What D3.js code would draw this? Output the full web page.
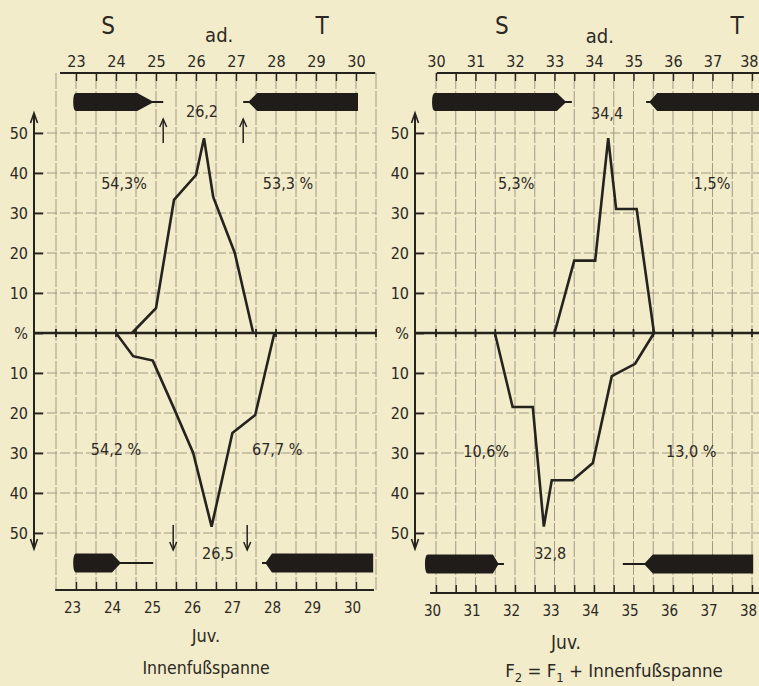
<!DOCTYPE html>
<html>
<head>
<meta charset="utf-8">
<script src="https://cdn.jsdelivr.net/npm/d3@7"></script>
<style>
  html, body { margin: 0; padding: 0; background: #f2ecca; }
  svg { display: block; }
  text {
    font-family: "DejaVu Sans Condensed", "Liberation Sans Narrow", "DejaVu Sans", sans-serif;
    font-stretch: condensed;
    fill: #2c2823;
  }
</style>
</head>
<body>
<svg id="chart"></svg>
<script>
// ===== Daten ===== //
// Kurven : [Wert, Prozent]  (ad. nach oben, Juv. nach unten)
const adLinks   = [[24.4,0],[25.0,6.2],[25.45,33.3],[26.0,39.5],[26.2,48.7],[26.43,34],[26.97,20],[27.43,0]];
const juvLinks  = [[24.0,0],[24.43,5.8],[24.92,6.9],[25.43,18.4],[25.93,30],[26.39,48.4],[26.91,25],[27.48,20.5],[27.96,0]];
const adRechts  = [[33.0,0],[33.5,18.1],[34.03,18.1],[34.36,48.7],[34.56,31],[35.08,31],[35.52,0]];
const juvRechts = [[31.49,0],[31.94,18.5],[32.45,18.5],[32.73,48.4],[32.93,36.8],[33.46,36.8],[33.97,32.5],[34.45,10.8],[35.04,7.7],[35.52,0]];

// Balken S / T (Variationsbreite) : 4 Werte a<b<c<d
const barsLinks  = { adS: [22.93,24.53,24.9,25.18], adT: [27.18,27.33,27.53,30.05],
                     juvS: [22.93,23.9,24.1,24.93], juvT: [27.65,27.75,27.9,30.43] };
const barsRechts = { adS: [29.9,33.06,33.27,33.44], adT: [35.32,35.42,35.6,38.2],
                     juvS: [29.72,31.44,31.57,31.72], juvT: [34.73,35.29,35.49,38.03] };

// Pfeile (Mittelwerte) links
const pfeileAd  = [25.18, 27.18];
const pfeileJuv = [25.43, 27.28];

// Beschriftungen
const ticksLinks  = ["23","24","25","26","27","28","29","30"];
const ticksRechts = ["30","31","32","33","34","35","36","37","38"];
const yWerte      = [-50,-40,-30,-20,-10,0,10,20,30,40,50];
const textLinks   = ["54,3%","53,3 %","54,2 %","67,7 %","26,2","26,5"];
const textRechts  = ["5,3%","1,5%","10,6%","13,0 %","34,4","32,8"];

// ===== Aufbau ===== //
const W = 759, H = 686;
const ink = "#26221e", grau = "#958d7b";

const svg = d3.select("#chart").attr("width", W).attr("height", H);

const y = d3.scaleLinear().domain([-50, 50]).range([533, 133]);

const panels = [
  { x: d3.scaleLinear().domain([23,30]).range([76,356]), start: 23, ende: 30, labels: ticksLinks,
    grid: [22.5,30.5], achseX: 34, top: [22.6,30.48], unten: [22.48,30.45], untenY: 590, rechts: 376,
    ad: adLinks, juv: juvLinks, bars: barsLinks, texte: textLinks,
    txtPos: [[24.2,36],[28.3,36],[24.0,-30.5],[28.03,-30.5],[26.15,54],[26.55,-56.5]],
    kopf: [[23.8,"S",24,34],[26.58,"ad.",20,42],[29.15,"T",24,34]], barBottomY: 563 },
  { x: d3.scaleLinear().domain([30,38]).range([436,752]), start: 30, ende: 38, labels: ticksRechts,
    grid: [30,38], achseX: 415, top: [30.02,38.2], unten: [29.85,38.2], untenY: 593, rechts: 759,
    ad: adRechts, juv: juvRechts, bars: barsRechts, texte: textRechts,
    txtPos: [[32.03,36],[36.99,36],[31.27,-31],[36.46,-31],[34.33,53.5],[32.89,-56.5]],
    kopf: [[31.67,"S",24,34],[34.15,"ad.",20,43],[37.62,"T",24,34]], barBottomY: 564 }
];

function pfeilKopf(g, x0, y0, richtung, w, len, sw) {
  // offene Pfeilspitze, richtung -1 = oben, +1 = unten
  g.append("path")
    .attr("d", `M${x0 - w},${y0 - richtung * len}L${x0},${y0}L${x0 + w},${y0 - richtung * len}`)
    .attr("fill", "none").attr("stroke", ink).attr("stroke-width", sw);
}

function barPfad(x, v, cy, h, seite) {
  const [a, b, c, d] = v.map(x);
  const t = 1.1, o = cy - h / 2, u = cy + h / 2;
  if (seite === "S") {
    return `M${a + 3},${o}L${b},${o}L${c},${cy - t}L${d},${cy - t}L${d},${cy + t}L${c},${cy + t}L${b},${u}L${a + 3},${u}Q${a},${u} ${a},${cy}Q${a},${o} ${a + 3},${o}Z`;
  }
  return `M${a},${cy - t}L${b},${cy - t}L${c},${o}L${d},${o}L${d},${u}L${c},${u}L${b},${cy + t}L${a},${cy + t}Z`;
}

panels.forEach(p => {
  const x = p.x;
  const g = svg.append("g");
  const halbe = d3.range(p.grid[0], p.grid[1] + 0.01, 0.5);

  // vertikale Gitterlinien
  g.append("g").selectAll("line").data(halbe).join("line")
    .attr("x1", d => x(d)).attr("x2", d => x(d))
    .attr("y1", 73).attr("y2", p.untenY)
    .attr("stroke", grau).attr("stroke-width", 0.85)
    .attr("stroke-dasharray", "16,2");

  // horizontale Gitterlinien
  g.append("g").selectAll("line").data(yWerte.filter(d => d !== 0)).join("line")
    .attr("x1", p.achseX).attr("x2", p.rechts)
    .attr("y1", d => y(d)).attr("y2", d => y(d))
    .attr("stroke", grau).attr("stroke-width", 0.85)
    .attr("stroke-dasharray", "10,3");

  // obere Achse
  const halbeAchse = d3.range(p.start, p.ende + 0.01, 0.5);
  const xTop = x.copy().domain(p.top).range(p.top.map(x));
  const topAxis = g.append("g").attr("transform", "translate(0,73)")
    .call(d3.axisTop(x).tickValues(halbeAchse).tickSizeInner(-8).tickSizeOuter(0).tickPadding(6)
      .tickFormat(d => Number.isInteger(d) ? p.labels[d - p.start] : ""));
  topAxis.select(".domain").remove();
  topAxis.selectAll("line").attr("stroke", ink).attr("stroke-width", 1.4);
  topAxis.selectAll("text").attr("font-size", 16).attr("font-family", null).attr("fill", ink)
    .filter(d => x(d) > W - 12).attr("text-anchor", "end").attr("x", W - 1 - x(p.ende));

  g.append("line").attr("x1", xTop(p.top[0])).attr("x2", xTop(p.top[1]))
    .attr("y1", 73).attr("y2", 73).attr("stroke", ink).attr("stroke-width", 2);

  // untere Achse
  const botAxis = g.append("g").attr("transform", `translate(0,${p.untenY})`)
    .call(d3.axisBottom(x).tickValues(halbeAchse).tickSizeInner(-8).tickSizeOuter(0)
      .tickFormat(d => Number.isInteger(d) ? p.labels[d - p.start] : ""));
  botAxis.select(".domain").remove();
  botAxis.selectAll("line").attr("stroke", ink).attr("stroke-width", 1.4);
  botAxis.selectAll("text").attr("font-size", 15).attr("font-family", null).attr("fill", ink)
    .attr("y", 23).attr("dy", 0).attr("x", -4);
  g.append("line").attr("x1", x(p.unten[0])).attr("x2", x(p.unten[1]))
    .attr("y1", p.untenY).attr("y2", p.untenY).attr("stroke", ink).attr("stroke-width", 2);

  // Nulllinie
  g.append("line").attr("x1", p.achseX).attr("x2", Math.min(p.rechts, W))
    .attr("y1", y(0)).attr("y2", y(0)).attr("stroke", ink).attr("stroke-width", 2.4);
  g.append("g").selectAll("line").data(halbe).join("line")
    .attr("x1", d => x(d)).attr("x2", d => x(d))
    .attr("y1", y(0) - 4).attr("y2", y(0) + 4)
    .attr("stroke", ink).attr("stroke-width", 1.8);

  // y-Achse
  const yAxis = g.append("g").attr("transform", `translate(${p.achseX},0)`)
    .call(d3.axisLeft(y).tickValues(yWerte).tickSizeInner(-9).tickSizeOuter(0).tickPadding(6)
      .tickFormat(d => d === 0 ? "%" : Math.abs(d)));
  yAxis.select(".domain").remove();
  yAxis.selectAll("line").attr("stroke", ink).attr("stroke-width", 1.8);
  yAxis.selectAll("text").attr("font-size", 16).attr("font-family", null).attr("fill", ink);
  g.append("line").attr("x1", p.achseX).attr("x2", p.achseX)
    .attr("y1", y(50) - 19).attr("y2", y(-50) + 15)
    .attr("stroke", ink).attr("stroke-width", 2);
  pfeilKopf(g, p.achseX, y(50) - 20, -1, 3.5, 10, 1.6);
  pfeilKopf(g, p.achseX, y(-50) + 16, 1, 3.5, 10, 1.6);

  // Balken
  g.append("path").attr("d", barPfad(x, p.bars.adS, 102, 18, "S")).attr("fill", "#1f1c19");
  g.append("path").attr("d", barPfad(x, p.bars.adT, 102, 18, "T")).attr("fill", "#1f1c19");
  g.append("path").attr("d", barPfad(x, p.bars.juvS, p.barBottomY, 19, "S")).attr("fill", "#1f1c19");
  g.append("path").attr("d", barPfad(x, p.bars.juvT, p.barBottomY, 19, "T")).attr("fill", "#1f1c19");

  // Kurven
  const linie = d3.line().x(d => x(d[0]));
  g.append("path").datum(p.ad)
    .attr("d", linie.y(d => y(d[1])))
    .attr("fill", "none").attr("stroke", ink).attr("stroke-width", 2.6).attr("stroke-linejoin", "miter");
  g.append("path").datum(p.juv)
    .attr("d", linie.y(d => y(-d[1])))
    .attr("fill", "none").attr("stroke", ink).attr("stroke-width", 2.6).attr("stroke-linejoin", "miter");

  // Prozent- und Gipfelwerte
  g.append("g").selectAll("text").data(p.texte).join("text")
    .attr("x", (d, i) => x(p.txtPos[i][0]))
    .attr("y", (d, i) => y(p.txtPos[i][1]))
    .attr("text-anchor", "middle").attr("font-size", 16)
    .text(d => d);

  // Kopfzeile S / ad. / T
  g.append("g").selectAll("text").data(p.kopf).join("text")
    .attr("x", d => x(d[0])).attr("y", d => d[3])
    .attr("text-anchor", "middle").attr("font-size", d => d[2])
    .text(d => d[1]);
});

// Pfeile links (Mittelwerte)
const xl = panels[0].x;
pfeileAd.forEach(v => {
  svg.append("line").attr("x1", xl(v)).attr("x2", xl(v)).attr("y1", 143).attr("y2", 119)
    .attr("stroke", ink).attr("stroke-width", 1.5);
  pfeilKopf(svg, xl(v), 119, -1, 3.5, 8, 1.5);
});
pfeileJuv.forEach(v => {
  svg.append("line").attr("x1", xl(v)).attr("x2", xl(v)).attr("y1", 525).attr("y2", 550)
    .attr("stroke", ink).attr("stroke-width", 1.5);
  pfeilKopf(svg, xl(v), 550, 1, 3.5, 8, 1.5);
});

// Untertitel
svg.append("text").attr("x", 206).attr("y", 642).attr("text-anchor", "middle").attr("font-size", 18).text("Juv.");
svg.append("text").attr("x", 206).attr("y", 674).attr("text-anchor", "middle").attr("font-size", 17.5).text("Innenfußspanne");
svg.append("text").attr("x", 566).attr("y", 649).attr("text-anchor", "middle").attr("font-size", 19).text("Juv.");
const formel = svg.append("text").attr("x", 614).attr("y", 677).attr("text-anchor", "middle").attr("font-size", 18.5);
formel.append("tspan").text("F");
formel.append("tspan").attr("dy", 5).attr("font-size", 13).text("2");
formel.append("tspan").attr("dy", -5).text("  =  F");
formel.append("tspan").attr("dy", 5).attr("font-size", 13).text("1");
formel.append("tspan").attr("dy", -5).text(" + Innenfußspanne");
</script>
</body>
</html>
